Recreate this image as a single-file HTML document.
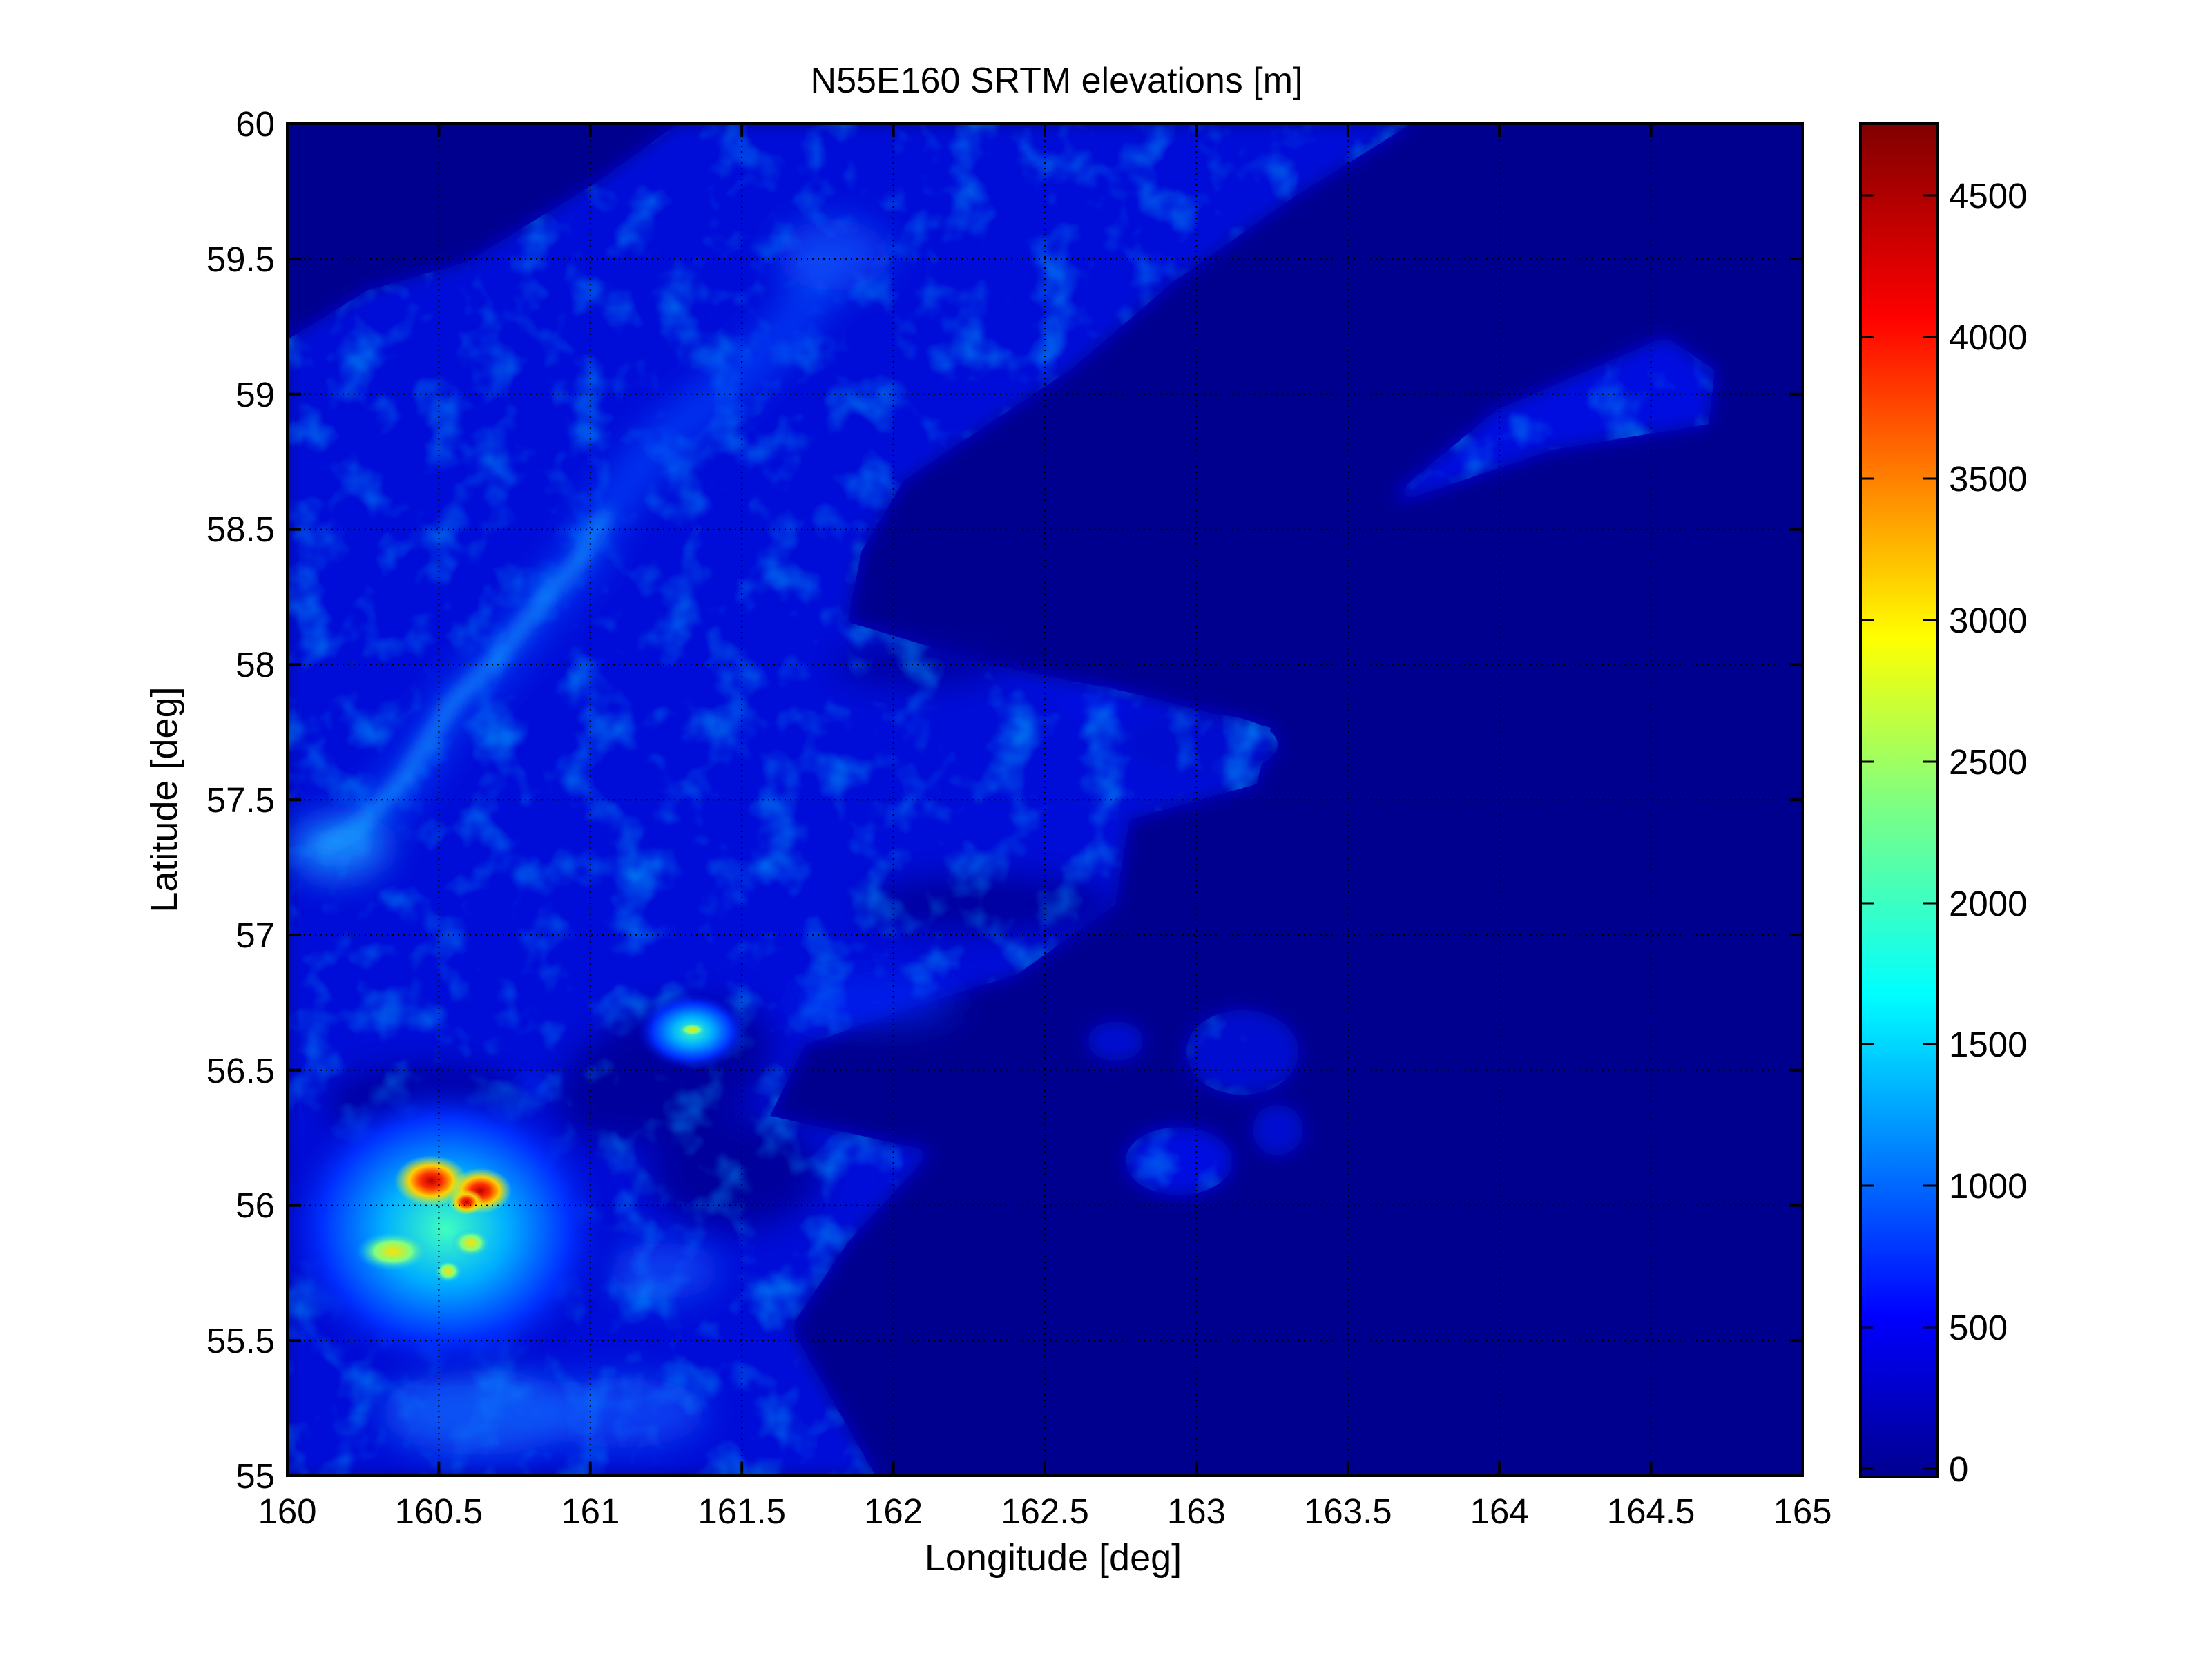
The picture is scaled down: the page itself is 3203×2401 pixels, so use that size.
<!DOCTYPE html>
<html><head><meta charset="utf-8"><style>
html,body{margin:0;padding:0;background:#fff}
svg{display:block}
text{font-family:"Liberation Sans",Arial,sans-serif;fill:#000}
</style></head><body>
<svg width="3203" height="2401" viewBox="0 0 3203 2401" xmlns="http://www.w3.org/2000/svg">
<defs>
<clipPath id="pc"><rect x="416" y="179" width="2194" height="1958"/></clipPath>
<clipPath id="land"><polygon points="203,240 260,205 330,185 420,130 480,87 1000,87 915,140 830,200 760,260 700,300 640,340 610,390 600,440 700,470 800,490 900,515 890,555 800,580 790,640 720,690 640,715 570,740 545,790 660,815 600,880 560,940 620,1045 203,1045"/>
<polygon points="985,352 1060,290 1180,238 1215,262 1210,300 1100,318 1000,352"/>
<ellipse cx="850" cy="527" rx="55" ry="22"/><ellipse cx="835" cy="822" rx="38" ry="24"/><ellipse cx="880" cy="745" rx="40" ry="30"/></clipPath>
<filter id="b6"><feGaussianBlur stdDeviation="6"/></filter>
<filter id="b12"><feGaussianBlur stdDeviation="12"/></filter>
<filter id="tex" x="0" y="0" width="100%" height="100%">
<feTurbulence type="fractalNoise" baseFrequency="0.03" numOctaves="3" seed="4"/>
<feColorMatrix type="matrix" values="0 0 0 0 0  0 0 0 0 0.4  0 0 0 0 1  0 0 0 2.4 -1.2"/>
</filter>
<radialGradient id="volc" cx="0.5" cy="0.5" r="0.5">
<stop offset="0" stop-color="#40ffc0"/>
<stop offset="0.35" stop-color="#00b0ff"/>
<stop offset="0.7" stop-color="#0030ff"/>
<stop offset="1" stop-color="#0000c0" stop-opacity="0"/>
</radialGradient>
<radialGradient id="hot" cx="0.5" cy="0.5" r="0.5">
<stop offset="0" stop-color="#c00000"/>
<stop offset="0.3" stop-color="#ff3000"/>
<stop offset="0.6" stop-color="#ffd000"/>
<stop offset="1" stop-color="#c0ff40" stop-opacity="0"/>
</radialGradient>
<radialGradient id="warm" cx="0.5" cy="0.5" r="0.5">
<stop offset="0" stop-color="#ffe000"/>
<stop offset="0.5" stop-color="#80ff80"/>
<stop offset="1" stop-color="#00c0ff" stop-opacity="0"/>
</radialGradient>
<linearGradient id="jet" x1="0" y1="1" x2="0" y2="0">
<stop offset="0" stop-color="#00008f"/>
<stop offset="0.119" stop-color="#0000ff"/>
<stop offset="0.357" stop-color="#00ffff"/>
<stop offset="0.5" stop-color="#80ff80"/>
<stop offset="0.62" stop-color="#ffff00"/>
<stop offset="0.857" stop-color="#ff0000"/>
<stop offset="1" stop-color="#800000"/>
</linearGradient>
</defs>

<text x="1530" y="134" font-size="52" text-anchor="middle">N55E160 SRTM elevations [m]</text>

<g clip-path="url(#pc)">
<rect x="416" y="179" width="2194" height="1958" fill="#00008f"/>
<g transform="translate(416,179) scale(2.043,2.044) translate(-203,-87)">
<g filter="url(#b6)">
<polygon fill="#0008d8" points="203,240 260,205 330,185 420,130 480,87 1000,87 915,140 830,200 760,260 700,300 640,340 610,390 600,440 700,470 800,490 900,515 890,555 800,580 790,640 720,690 640,715 570,740 545,790 660,815 600,880 560,940 620,1045 203,1045"/>
<polygon fill="#0010e0" points="985,352 1060,290 1180,238 1215,262 1210,300 1100,318 1000,352"/>
<ellipse cx="775" cy="497" rx="26" ry="12" fill="#0010e0"/>
<ellipse cx="850" cy="527" rx="55" ry="22" fill="#0008d0"/>
<ellipse cx="835" cy="822" rx="38" ry="24" fill="#0010e0"/>
<ellipse cx="880" cy="745" rx="40" ry="30" fill="#0008d0"/>
<ellipse cx="905" cy="800" rx="18" ry="18" fill="#0008d0"/>
<ellipse cx="790" cy="737" rx="20" ry="14" fill="#0008d0"/>
<ellipse cx="378" cy="770" rx="14" ry="8" fill="#0020f0"/>
</g>
<g filter="url(#b12)" fill="#00009c">
<ellipse cx="470" cy="760" rx="80" ry="45" transform="rotate(-20 470 760)"/>
<ellipse cx="520" cy="830" rx="60" ry="40"/>
<ellipse cx="300" cy="780" rx="70" ry="25"/>
<ellipse cx="700" cy="640" rx="90" ry="20"/>
<ellipse cx="650" cy="470" rx="60" ry="14"/>
</g>
<g clip-path="url(#land)">
<rect x="203" y="87" width="1074" height="958" filter="url(#tex)" opacity="0.6"/>
</g>
<g filter="url(#b12)">
<polyline points="215,610 250,590 285,555 320,500 350,470 380,432 410,398 430,360 470,310 520,270 560,230 590,185" fill="none" stroke="#0850ff" stroke-width="30" opacity="0.6"/>
<ellipse cx="590" cy="180" rx="40" ry="25" fill="#1060ff" opacity="0.6"/>
<ellipse cx="240" cy="600" rx="35" ry="22" fill="#20a0ff" opacity="0.7"/>
<ellipse cx="340" cy="1000" rx="70" ry="30" fill="#1070ff" opacity="0.7"/>
<ellipse cx="440" cy="1000" rx="60" ry="25" fill="#1060ff" opacity="0.6"/>
<ellipse cx="470" cy="900" rx="40" ry="20" fill="#1060ff" opacity="0.6"/>
<ellipse cx="620" cy="710" rx="60" ry="18" fill="#0830ff" opacity="0.5"/>
</g>
<g filter="url(#b6)">
<polyline points="225,600 250,588 285,552 320,497 350,468 380,430 410,396 430,362" fill="none" stroke="#20b0ff" stroke-width="7" opacity="0.9"/>
</g>
<ellipse cx="315" cy="870" rx="125" ry="112" fill="url(#volc)"/>
<ellipse cx="490" cy="730" rx="40" ry="28" fill="url(#volc)"/>
<ellipse cx="490" cy="729" rx="10" ry="5" fill="url(#warm)"/>
<ellipse cx="305" cy="836" rx="26" ry="18" fill="url(#hot)"/>
<ellipse cx="340" cy="843" rx="22" ry="16" fill="url(#hot)"/>
<ellipse cx="330" cy="851" rx="12" ry="9" fill="url(#hot)"/>
<ellipse cx="278" cy="886" rx="26" ry="14" fill="url(#warm)"/>
<ellipse cx="333" cy="880" rx="14" ry="10" fill="url(#warm)"/>
<ellipse cx="317" cy="900" rx="10" ry="8" fill="url(#warm)"/>
</g>
</g>

<g stroke="#000" stroke-width="2" stroke-dasharray="2 6" clip-path="url(#pc)">
<path d="M635.4 179V2137M854.8 179V2137M1074.2 179V2137M1293.6 179V2137M1513 179V2137M1732.4 179V2137M1951.8 179V2137M2171.2 179V2137M2390.6 179V2137"/>
<path d="M416 375H2610M416 570.8H2610M416 766.6H2610M416 962.4H2610M416 1158.2H2610M416 1354H2610M416 1549.8H2610M416 1745.6H2610M416 1941.4H2610"/>
</g>
<g stroke="#000" stroke-width="4">
<path d="M635.4 179v20M854.8 179v20M1074.2 179v20M1293.6 179v20M1513 179v20M1732.4 179v20M1951.8 179v20M2171.2 179v20M2390.6 179v20"/>
<path d="M635.4 2137v-20M854.8 2137v-20M1074.2 2137v-20M1293.6 2137v-20M1513 2137v-20M1732.4 2137v-20M1951.8 2137v-20M2171.2 2137v-20M2390.6 2137v-20"/>
<path d="M416 375h20M416 570.8h20M416 766.6h20M416 962.4h20M416 1158.2h20M416 1354h20M416 1549.8h20M416 1745.6h20M416 1941.4h20"/>
<path d="M2610 375h-20M2610 570.8h-20M2610 766.6h-20M2610 962.4h-20M2610 1158.2h-20M2610 1354h-20M2610 1549.8h-20M2610 1745.6h-20M2610 1941.4h-20"/>
</g>
<rect x="416" y="179" width="2194" height="1958" fill="none" stroke="#000" stroke-width="4"/>

<g font-size="51" text-anchor="end">
<text x="398" y="197">60</text>
<text x="398" y="393">59.5</text>
<text x="398" y="589">59</text>
<text x="398" y="784">58.5</text>
<text x="398" y="980">58</text>
<text x="398" y="1176">57.5</text>
<text x="398" y="1372">57</text>
<text x="398" y="1568">56.5</text>
<text x="398" y="1763">56</text>
<text x="398" y="1959">55.5</text>
<text x="398" y="2155">55</text>
</g>
<g font-size="51" text-anchor="middle">
<text x="416" y="2206">160</text>
<text x="635.4" y="2206">160.5</text>
<text x="854.8" y="2206">161</text>
<text x="1074.2" y="2206">161.5</text>
<text x="1293.6" y="2206">162</text>
<text x="1513" y="2206">162.5</text>
<text x="1732.4" y="2206">163</text>
<text x="1951.8" y="2206">163.5</text>
<text x="2171.2" y="2206">164</text>
<text x="2390.6" y="2206">164.5</text>
<text x="2610" y="2206">165</text>
</g>
<text x="1525" y="2274" font-size="54" text-anchor="middle">Longitude [deg]</text>
<text transform="translate(256,1158) rotate(-90)" font-size="54" text-anchor="middle">Latitude [deg]</text>

<rect x="2694" y="179" width="111" height="1960" fill="url(#jet)"/>
<g stroke="#000" stroke-width="3">
<path d="M2694 2127h20M2805 2127h-20M2694 1922h20M2805 1922h-20M2694 1717h20M2805 1717h-20M2694 1512h20M2805 1512h-20M2694 1308h20M2805 1308h-20M2694 1103h20M2805 1103h-20M2694 898h20M2805 898h-20M2694 693h20M2805 693h-20M2694 488h20M2805 488h-20M2694 283h20M2805 283h-20"/>
</g>
<rect x="2694" y="179" width="111" height="1960" fill="none" stroke="#000" stroke-width="4"/>
<g font-size="51">
<text x="2822" y="2145">0</text>
<text x="2822" y="1940">500</text>
<text x="2822" y="1735">1000</text>
<text x="2822" y="1530">1500</text>
<text x="2822" y="1326">2000</text>
<text x="2822" y="1121">2500</text>
<text x="2822" y="916">3000</text>
<text x="2822" y="711">3500</text>
<text x="2822" y="506">4000</text>
<text x="2822" y="301">4500</text>
</g>
</svg>
</body></html>
